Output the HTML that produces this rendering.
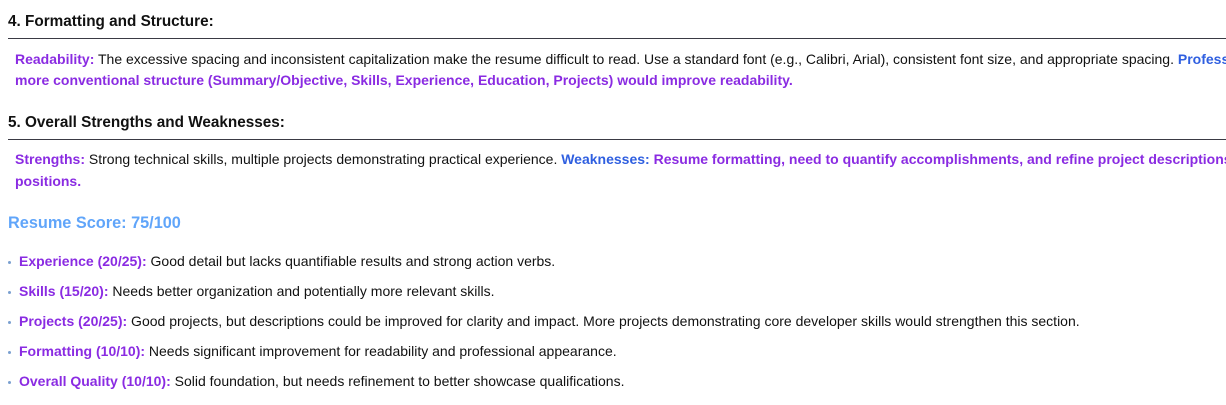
<!DOCTYPE html>
<html><head><meta charset="utf-8"><style>
html,body{margin:0;padding:0;width:1226px;height:405px;overflow:hidden;background:#fff;font-family:"Liberation Sans",sans-serif;color:#111;}
#wrap{position:relative;width:1226px;height:405px;overflow:hidden;}
.a{position:absolute;white-space:nowrap;}
.clip{right:0;overflow:hidden;}
h3{margin:0;font-size:15.3px;font-weight:bold;color:#111;}
.rule{position:absolute;left:8px;width:1218px;height:1px;background:#3a3a44;}
.p{font-size:14px;}
.pu{color:#8a2be2;font-weight:bold;}
.bl{color:#2f5fe0;font-weight:bold;}
.score{font-size:16.3px;font-weight:bold;color:#60a5fa;}
.dot{position:absolute;left:8px;width:3px;height:3px;border-radius:50%;background:#7aa0d0;}
</style></head><body>
<div id="wrap">
<div class="a" style="left:8px;top:13px"><h3>4. Formatting and Structure:</h3></div>
<div class="rule" style="top:38px"></div>
<div class="a p clip" style="left:15px;top:51px"><span class="pu">Readability:</span> The excessive spacing and inconsistent capitalization make the resume difficult to read. Use a standard font (e.g., Calibri, Arial), consistent font size, and appropriate spacing. <span class="bl">Professional formatting</span></div>
<div class="a p pu" style="left:15px;top:72px">more conventional structure (Summary/Objective, Skills, Experience, Education, Projects) would improve readability.</div>
<div class="a" style="left:8px;top:114px"><h3>5. Overall Strengths and Weaknesses:</h3></div>
<div class="rule" style="top:139px"></div>
<div class="a p clip" style="left:15px;top:151px"><span class="pu">Strengths:</span> Strong technical skills, multiple projects demonstrating practical experience. <span class="bl">Weaknesses:</span> <span class="pu">Resume formatting, need to quantify accomplishments, and refine project descriptions and</span></div>
<div class="a p pu" style="left:15px;top:173px">positions.</div>
<div class="a score" style="left:8px;top:214px">Resume Score: 75/100</div>
<div class="dot" style="top:261px"></div>
<div class="a p" style="left:19px;top:253px"><span class="pu">Experience (20/25):</span> Good detail but lacks quantifiable results and strong action verbs.</div>
<div class="dot" style="top:291px"></div>
<div class="a p" style="left:19px;top:283px"><span class="pu">Skills (15/20):</span> Needs better organization and potentially more relevant skills.</div>
<div class="dot" style="top:321px"></div>
<div class="a p" style="left:19px;top:313px"><span class="pu">Projects (20/25):</span> Good projects, but descriptions could be improved for clarity and impact. More projects demonstrating core developer skills would strengthen this section.</div>
<div class="dot" style="top:351px"></div>
<div class="a p" style="left:19px;top:343px"><span class="pu">Formatting (10/10):</span> Needs significant improvement for readability and professional appearance.</div>
<div class="dot" style="top:381px"></div>
<div class="a p" style="left:19px;top:373px"><span class="pu">Overall Quality (10/10):</span> Solid foundation, but needs refinement to better showcase qualifications.</div>
</div>
</body></html>
